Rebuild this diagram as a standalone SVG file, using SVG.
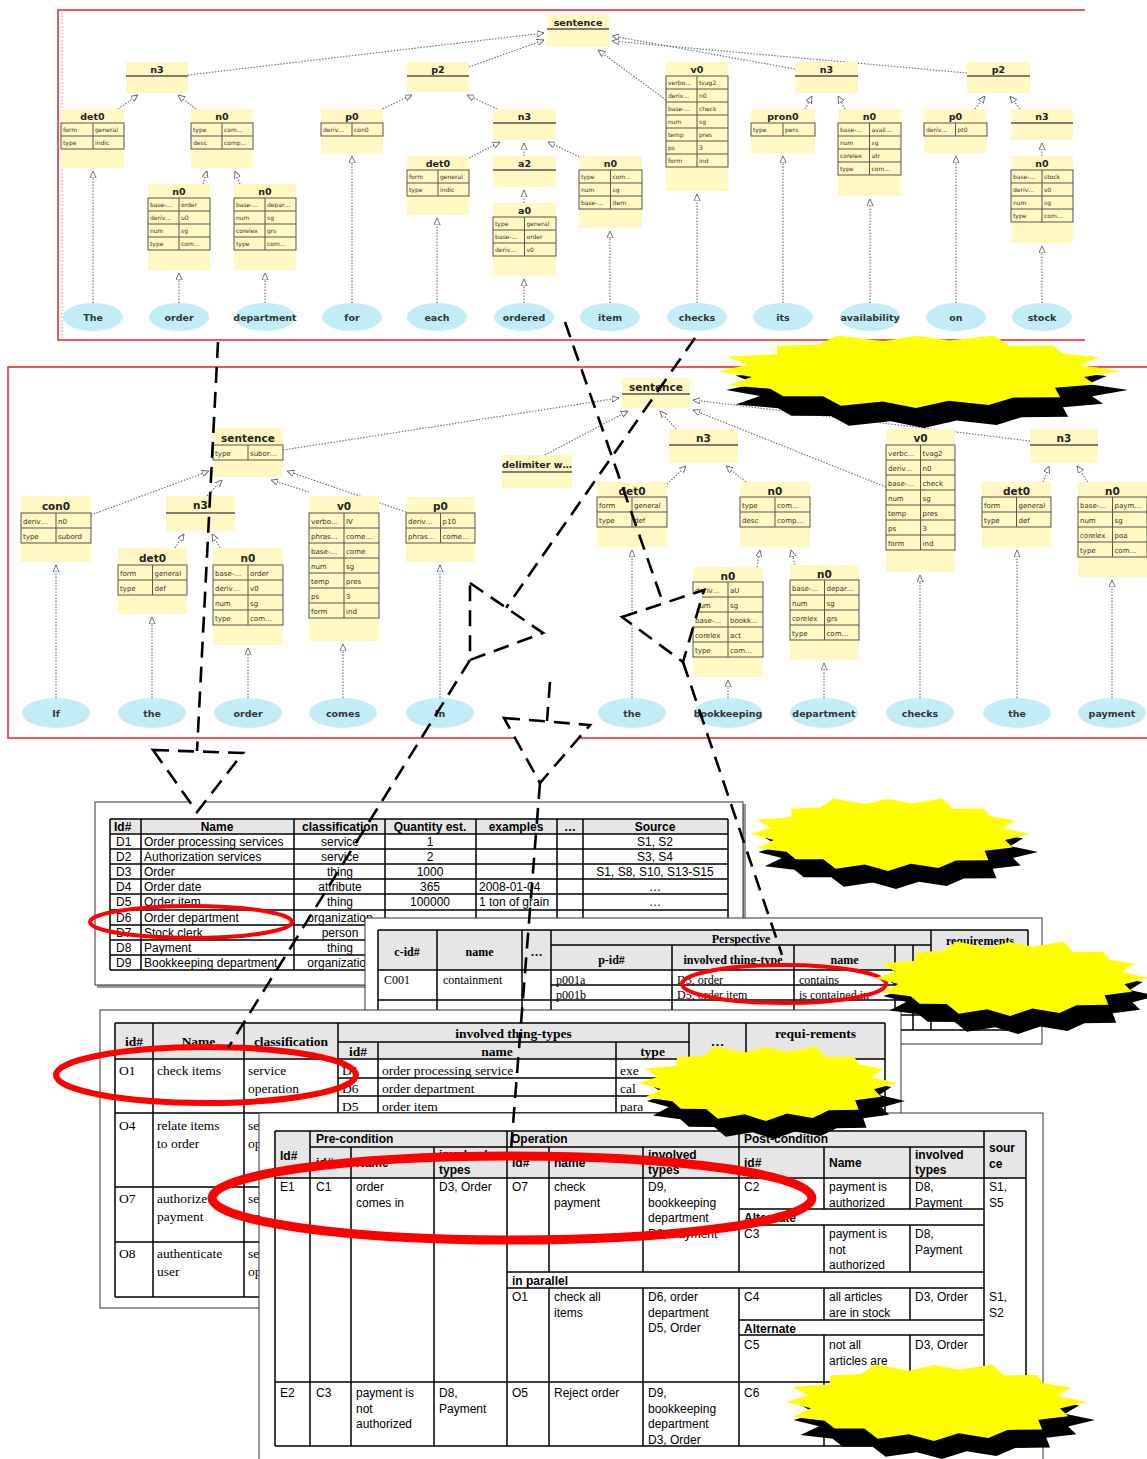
<svg xmlns="http://www.w3.org/2000/svg" xmlns:xlink="http://www.w3.org/1999/xlink" width="1147" height="1459" viewBox="0 0 1147 1459">
<style>
.nb{fill:#fff8c2}
.nt{font-family:"DejaVu Sans",sans-serif;font-weight:bold;font-size:9.5px;fill:#222;text-anchor:middle}
.nt2{font-family:"DejaVu Sans",sans-serif;font-weight:bold;font-size:10.5px;fill:#222;text-anchor:middle}
.ul{stroke:#555;stroke-width:1.6;fill:none}
.tb{fill:none;stroke:#555;stroke-width:1}
.ct{font-family:"DejaVu Sans",sans-serif;font-size:6px;fill:#333}
.ct2{font-family:"DejaVu Sans",sans-serif;font-size:7px;fill:#333}
.wd{fill:#c2edf7}
.wt{font-family:"DejaVu Sans",sans-serif;font-weight:bold;font-size:9.5px;fill:#333;text-anchor:middle}
.ed{fill:none;stroke:#777;stroke-width:1.2;stroke-dasharray:1.5 1.5;marker-end:url(#tri)}
.pan{fill:none;stroke:#e82020;stroke-width:1.5}
.frame{fill:#fff;stroke:#333;stroke-width:1}
.hd{fill:#e6e6e6}
.g1{fill:none;stroke:#000;stroke-width:1.5}
.s1{font-family:"Liberation Sans",Arial,sans-serif;font-size:12px;fill:#000}
.s1b{font-family:"Liberation Sans",Arial,sans-serif;font-size:12px;font-weight:bold;fill:#000}
.sr{font-family:"Liberation Serif","Times New Roman",serif;font-size:12px;fill:#000}
.srb{font-family:"Liberation Serif","Times New Roman",serif;font-size:12px;font-weight:bold;fill:#000}
.t3{font-family:"Liberation Serif","Times New Roman",serif;font-size:13.5px;fill:#000}
.t3b{font-family:"Liberation Serif","Times New Roman",serif;font-size:13.5px;font-weight:bold;fill:#000}
.t4{font-family:"Liberation Sans",Arial,sans-serif;font-size:12px;fill:#000}
.t4b{font-family:"Liberation Sans",Arial,sans-serif;font-size:12px;font-weight:bold;fill:#000}
.m{text-anchor:middle}
.re{fill:none;stroke:#ff0000}
.da{fill:none;stroke:#000;stroke-width:2.6;stroke-dasharray:16 9}
.dh{fill:#fff;stroke:#000;stroke-width:2.6;stroke-dasharray:16 9}
</style>
<defs>
<marker id="tri" viewBox="0 0 10 10" refX="10" refY="5" markerWidth="7" markerHeight="7" markerUnits="userSpaceOnUse" orient="auto">
<path d="M0,0.5 L10,5 L0,9.5 Z" fill="#fff" stroke="#666" stroke-width="1.3"/>
</marker>
<path id="star" d="M100,0 L82.4,16.4 L87.8,36.4 L68.1,45.6 L70.7,70.7 L47.8,71.5 L35.6,92 L16,80.4 L0,100 L-16.4,82.4 L-36.8,94 L-45.6,68.1 L-65,68 L-71.5,47.8 L-92.4,38.3 L-80.4,16 L-97,0 L-82.4,-16.4 L-92.4,-38.3 L-68.1,-45.6 L-68,-68 L-47.8,-71.5 L-38.3,-96 L-16,-80.4 L0,-95 L16.4,-82.4 L38.3,-96 L45.6,-68.1 L67.2,-69 L71.5,-47.8 L89.6,-37.1 L80.4,-16 Z"/>
</defs>
<rect width="1147" height="1459" fill="#fff"/>

<!-- ============ PANEL 1 ============ -->
<g id="panel1">
<path class="pan" d="M1085,10H58V340H1085"/>
<path d="M62,12V338" stroke="#999" stroke-width="1" stroke-dasharray="1.5 2"/>
</g>
<g id="p1-edges">
<path class="ed" d="M93,303V171"/>
<path class="ed" d="M179,303V273"/>
<path class="ed" d="M265,303V273"/>
<path class="ed" d="M352,303V156"/>
<path class="ed" d="M437,303V218"/>
<path class="ed" d="M524,303V279"/>
<path class="ed" d="M610,303V231"/>
<path class="ed" d="M697,303V194"/>
<path class="ed" d="M783,303V156"/>
<path class="ed" d="M870,303V199"/>
<path class="ed" d="M956,303V156"/>
<path class="ed" d="M1042,303V246"/>
<path class="ed" d="M524,203V190"/>
<path class="ed" d="M524,156V143"/>
<path class="ed" d="M1042,156V143"/>
<path class="ed" d="M118,109L138,95"/>
<path class="ed" d="M196,109L178,95"/>
<path class="ed" d="M203,184L207,171"/>
<path class="ed" d="M240,184L235,171"/>
<path class="ed" d="M380,110L412,95"/>
<path class="ed" d="M497,109L467,95"/>
<path class="ed" d="M469,158L500,142"/>
<path class="ed" d="M582,158L548,142"/>
<path class="ed" d="M188,75L544,33"/>
<path class="ed" d="M469,67L544,40"/>
<path class="ed" d="M666,100L598,50"/>
<path class="ed" d="M795,69L612,36"/>
<path class="ed" d="M967,73L612,41"/>
<path class="ed" d="M805,109L812,96"/>
<path class="ed" d="M845,109L838,96"/>
<path class="ed" d="M975,109L985,96"/>
<path class="ed" d="M1020,109L1010,96"/>
</g>
<g id="p1-sentence"><rect class="nb" x="547" y="15" width="62" height="32"/><text class="nt" x="578" y="26">sentence</text><path class="ul" d="M547,29H609"/></g>
<g id="p1-n3a"><rect class="nb" x="126" y="62" width="62" height="31"/><text class="nt" x="157" y="73">n3</text><path class="ul" d="M126,76H188"/></g>
<g id="p1-det0a"><rect class="nb" x="61" y="109" width="63" height="59"/><text class="nt" x="92.5" y="120">det0</text><rect class="tb" x="61" y="123" width="63" height="26"/><path class="tb" d="M61,136H124M93,123V149"/><text class="ct" x="63" y="132">form</text><text class="ct" x="95" y="132">general</text><text class="ct" x="63" y="145">type</text><text class="ct" x="95" y="145">indic</text></g>
<g id="p1-n0a"><rect class="nb" x="191" y="109" width="62" height="59"/><text class="nt" x="222" y="120">n0</text><rect class="tb" x="191" y="123" width="62" height="26"/><path class="tb" d="M191,136H253M222,123V149"/><text class="ct" x="193" y="132">type</text><text class="ct" x="224" y="132">com…</text><text class="ct" x="193" y="145">desc</text><text class="ct" x="224" y="145">comp…</text></g>
<g id="p1-n0b"><rect class="nb" x="148" y="184" width="62" height="86"/><text class="nt" x="179" y="195">n0</text><rect class="tb" x="148" y="198" width="62" height="52"/><path class="tb" d="M148,211H210M148,224H210M148,237H210M179,198V250"/><text class="ct" x="150" y="207">base-…</text><text class="ct" x="181" y="207">order</text><text class="ct" x="150" y="220">deriv…</text><text class="ct" x="181" y="220">u0</text><text class="ct" x="150" y="233">num</text><text class="ct" x="181" y="233">sg</text><text class="ct" x="150" y="246">type</text><text class="ct" x="181" y="246">com…</text></g>
<g id="p1-n0c"><rect class="nb" x="234" y="184" width="62" height="86"/><text class="nt" x="265" y="195">n0</text><rect class="tb" x="234" y="198" width="62" height="52"/><path class="tb" d="M234,211H296M234,224H296M234,237H296M265,198V250"/><text class="ct" x="236" y="207">base-…</text><text class="ct" x="267" y="207">depar…</text><text class="ct" x="236" y="220">num</text><text class="ct" x="267" y="220">sg</text><text class="ct" x="236" y="233">corelex</text><text class="ct" x="267" y="233">grs</text><text class="ct" x="236" y="246">type</text><text class="ct" x="267" y="246">com…</text></g>
<g id="p1-p0a"><rect class="nb" x="321" y="109" width="62" height="44"/><text class="nt" x="352" y="120">p0</text><rect class="tb" x="321" y="123" width="62" height="13"/><path class="tb" d="M352,123V136"/><text class="ct" x="323" y="132">deriv…</text><text class="ct" x="354" y="132">con0</text></g>
<g id="p1-p2a"><rect class="nb" x="407" y="62" width="62" height="30"/><text class="nt" x="438" y="73">p2</text><path class="ul" d="M407,76H469"/></g>
<g id="p1-n3b"><rect class="nb" x="493" y="109" width="63" height="31"/><text class="nt" x="524.5" y="120">n3</text><path class="ul" d="M493,123H556"/></g>
<g id="p1-det0b"><rect class="nb" x="407" y="156" width="62" height="59"/><text class="nt" x="438" y="167">det0</text><rect class="tb" x="407" y="170" width="62" height="26"/><path class="tb" d="M407,183H469M438,170V196"/><text class="ct" x="409" y="179">form</text><text class="ct" x="440" y="179">general</text><text class="ct" x="409" y="192">type</text><text class="ct" x="440" y="192">indic</text></g>
<g id="p1-a2"><rect class="nb" x="493" y="156" width="63" height="31"/><text class="nt" x="524.5" y="167">a2</text><path class="ul" d="M493,170H556"/></g>
<g id="p1-a0"><rect class="nb" x="493" y="203" width="63" height="73"/><text class="nt" x="524.5" y="214">a0</text><rect class="tb" x="493" y="217" width="63" height="39"/><path class="tb" d="M493,230H556M493,243H556M524.5,217V256"/><text class="ct" x="495" y="226">type</text><text class="ct" x="526.5" y="226">general</text><text class="ct" x="495" y="239">base-…</text><text class="ct" x="526.5" y="239">order</text><text class="ct" x="495" y="252">deriv…</text><text class="ct" x="526.5" y="252">v0</text></g>
<g id="p1-n0d"><rect class="nb" x="579" y="156" width="63" height="72"/><text class="nt" x="610.5" y="167">n0</text><rect class="tb" x="579" y="170" width="63" height="39"/><path class="tb" d="M579,183H642M579,196H642M610.5,170V209"/><text class="ct" x="581" y="179">type</text><text class="ct" x="612.5" y="179">com…</text><text class="ct" x="581" y="192">num</text><text class="ct" x="612.5" y="192">sg</text><text class="ct" x="581" y="205">base-…</text><text class="ct" x="612.5" y="205">item</text></g>
<g id="p1-v0a"><rect class="nb" x="666" y="62" width="62" height="129"/><text class="nt" x="697" y="73">v0</text><rect class="tb" x="666" y="76" width="62" height="91"/><path class="tb" d="M666,89H728M666,102H728M666,115H728M666,128H728M666,141H728M666,154H728M697,76V167"/><text class="ct" x="668" y="85">verbo…</text><text class="ct" x="699" y="85">tvag2</text><text class="ct" x="668" y="98">deriv…</text><text class="ct" x="699" y="98">n0</text><text class="ct" x="668" y="111">base-…</text><text class="ct" x="699" y="111">check</text><text class="ct" x="668" y="124">num</text><text class="ct" x="699" y="124">sg</text><text class="ct" x="668" y="137">temp</text><text class="ct" x="699" y="137">pres</text><text class="ct" x="668" y="150">ps</text><text class="ct" x="699" y="150">3</text><text class="ct" x="668" y="163">form</text><text class="ct" x="699" y="163">ind</text></g>
<g id="p1-n3c"><rect class="nb" x="795" y="62" width="63" height="31"/><text class="nt" x="826.5" y="73">n3</text><path class="ul" d="M795,76H858"/></g>
<g id="p1-pron0"><rect class="nb" x="751" y="109" width="64" height="44"/><text class="nt" x="783" y="120">pron0</text><rect class="tb" x="751" y="123" width="64" height="13"/><path class="tb" d="M783,123V136"/><text class="ct" x="753" y="132">type</text><text class="ct" x="785" y="132">pers</text></g>
<g id="p1-n0e"><rect class="nb" x="838" y="109" width="63" height="87"/><text class="nt" x="869.5" y="120">n0</text><rect class="tb" x="838" y="123" width="63" height="52"/><path class="tb" d="M838,136H901M838,149H901M838,162H901M869.5,123V175"/><text class="ct" x="840" y="132">base-…</text><text class="ct" x="871.5" y="132">avail…</text><text class="ct" x="840" y="145">num</text><text class="ct" x="871.5" y="145">sg</text><text class="ct" x="840" y="158">corelex</text><text class="ct" x="871.5" y="158">atr</text><text class="ct" x="840" y="171">type</text><text class="ct" x="871.5" y="171">com…</text></g>
<g id="p1-p2b"><rect class="nb" x="967" y="62" width="63" height="31"/><text class="nt" x="998.5" y="73">p2</text><path class="ul" d="M967,76H1030"/></g>
<g id="p1-p0b"><rect class="nb" x="924" y="109" width="63" height="44"/><text class="nt" x="955.5" y="120">p0</text><rect class="tb" x="924" y="123" width="63" height="13"/><path class="tb" d="M955.5,123V136"/><text class="ct" x="926" y="132">deriv…</text><text class="ct" x="957.5" y="132">pt0</text></g>
<g id="p1-n3d"><rect class="nb" x="1011" y="109" width="62" height="31"/><text class="nt" x="1042" y="120">n3</text><path class="ul" d="M1011,123H1073"/></g>
<g id="p1-n0f"><rect class="nb" x="1011" y="156" width="62" height="87"/><text class="nt" x="1042" y="167">n0</text><rect class="tb" x="1011" y="170" width="62" height="52"/><path class="tb" d="M1011,183H1073M1011,196H1073M1011,209H1073M1042,170V222"/><text class="ct" x="1013" y="179">base-…</text><text class="ct" x="1044" y="179">stock</text><text class="ct" x="1013" y="192">deriv…</text><text class="ct" x="1044" y="192">v0</text><text class="ct" x="1013" y="205">num</text><text class="ct" x="1044" y="205">sg</text><text class="ct" x="1013" y="218">type</text><text class="ct" x="1044" y="218">com…</text></g>
<g id="p1-words">
<g id="w-The"><ellipse class="wd" cx="93" cy="317" rx="30" ry="14"/><text class="wt" x="93" y="321">The</text></g>
<g id="w-order"><ellipse class="wd" cx="179" cy="317" rx="30" ry="14"/><text class="wt" x="179" y="321">order</text></g>
<g id="w-department"><ellipse class="wd" cx="265" cy="317" rx="30" ry="14"/><text class="wt" x="265" y="321">department</text></g>
<g id="w-for"><ellipse class="wd" cx="352" cy="317" rx="30" ry="14"/><text class="wt" x="352" y="321">for</text></g>
<g id="w-each"><ellipse class="wd" cx="437" cy="317" rx="30" ry="14"/><text class="wt" x="437" y="321">each</text></g>
<g id="w-ordered"><ellipse class="wd" cx="524" cy="317" rx="30" ry="14"/><text class="wt" x="524" y="321">ordered</text></g>
<g id="w-item"><ellipse class="wd" cx="610" cy="317" rx="30" ry="14"/><text class="wt" x="610" y="321">item</text></g>
<g id="w-checks"><ellipse class="wd" cx="697" cy="317" rx="30" ry="14"/><text class="wt" x="697" y="321">checks</text></g>
<g id="w-its"><ellipse class="wd" cx="783" cy="317" rx="30" ry="14"/><text class="wt" x="783" y="321">its</text></g>
<g id="w-availability"><ellipse class="wd" cx="870" cy="317" rx="30" ry="14"/><text class="wt" x="870" y="321">availability</text></g>
<g id="w-on"><ellipse class="wd" cx="956" cy="317" rx="30" ry="14"/><text class="wt" x="956" y="321">on</text></g>
<g id="w-stock"><ellipse class="wd" cx="1042" cy="317" rx="30" ry="14"/><text class="wt" x="1042" y="321">stock</text></g>
</g>

<!-- ============ PANEL 2 ============ -->
<g id="panel2"><rect x="8" y="367" width="1139" height="371" fill="#fff"/><path class="pan" d="M1147,367H8V738H1147"/></g>
<g id="p2-edges">
<path class="ed" d="M56,698V565"/>
<path class="ed" d="M152,698V617"/>
<path class="ed" d="M248,698V648"/>
<path class="ed" d="M343,698V644"/>
<path class="ed" d="M440,698V565"/>
<path class="ed" d="M632,698V550"/>
<path class="ed" d="M728,698V680"/>
<path class="ed" d="M824,698V663"/>
<path class="ed" d="M920,698V575"/>
<path class="ed" d="M1017,698V550"/>
<path class="ed" d="M1112,698V580"/>
<path class="ed" d="M175,548L184,534"/>
<path class="ed" d="M220,548L212,534"/>
<path class="ed" d="M91,515L209,471"/>
<path class="ed" d="M207,496L222,480"/>
<path class="ed" d="M309,492L271,480"/>
<path class="ed" d="M406,512L287,471"/>
<path class="ed" d="M283,450L619,398"/>
<path class="ed" d="M545,455L628,411"/>
<path class="ed" d="M676,429L660,411"/>
<path class="ed" d="M886,487L693,410"/>
<path class="ed" d="M1030,441L693,400"/>
<path class="ed" d="M667,484L686,466"/>
<path class="ed" d="M746,482L726,466"/>
<path class="ed" d="M757,567L760,550"/>
<path class="ed" d="M795,565L791,550"/>
<path class="ed" d="M1043,482L1049,466"/>
<path class="ed" d="M1088,482L1077,466"/>
</g>
<g id="p2-sentTop"><rect class="nb" x="622" y="378" width="68" height="30"/><text class="nt2" x="656" y="391">sentence</text><path class="ul" d="M622,394H690"/></g>
<g id="p2-sentSub"><rect class="nb" x="213" y="428" width="70" height="49"/><text class="nt2" x="248" y="442">sentence</text><rect class="tb" x="213" y="445" width="70" height="15"/><path class="tb" d="M248,445V460"/><text class="ct2" x="215" y="455.5">type</text><text class="ct2" x="250" y="455.5">subor…</text></g>
<g id="p2-con0"><rect class="nb" x="21" y="496" width="70" height="66"/><text class="nt2" x="56" y="510">con0</text><rect class="tb" x="21" y="513" width="70" height="30"/><path class="tb" d="M21,528H91M56,513V543"/><text class="ct2" x="23" y="523.5">deriv…</text><text class="ct2" x="58" y="523.5">n0</text><text class="ct2" x="23" y="538.5">type</text><text class="ct2" x="58" y="538.5">subord</text></g>
<g id="p2-n3e"><rect class="nb" x="166" y="496" width="69" height="35"/><text class="nt2" x="200.5" y="509">n3</text><path class="ul" d="M166,513H235"/></g>
<g id="p2-det0c"><rect class="nb" x="118" y="548" width="69" height="66"/><text class="nt2" x="152.5" y="562">det0</text><rect class="tb" x="118" y="565" width="69" height="30"/><path class="tb" d="M118,580H187M152.5,565V595"/><text class="ct2" x="120" y="575.5">form</text><text class="ct2" x="154.5" y="575.5">general</text><text class="ct2" x="120" y="590.5">type</text><text class="ct2" x="154.5" y="590.5">def</text></g>
<g id="p2-n0g"><rect class="nb" x="213" y="548" width="70" height="97"/><text class="nt2" x="248" y="562">n0</text><rect class="tb" x="213" y="565" width="70" height="60"/><path class="tb" d="M213,580H283M213,595H283M213,610H283M248,565V625"/><text class="ct2" x="215" y="575.5">base-…</text><text class="ct2" x="250" y="575.5">order</text><text class="ct2" x="215" y="590.5">deriv…</text><text class="ct2" x="250" y="590.5">v0</text><text class="ct2" x="215" y="605.5">num</text><text class="ct2" x="250" y="605.5">sg</text><text class="ct2" x="215" y="620.5">type</text><text class="ct2" x="250" y="620.5">com…</text></g>
<g id="p2-v0b"><rect class="nb" x="309" y="496" width="70" height="145"/><text class="nt2" x="344" y="510">v0</text><rect class="tb" x="309" y="513" width="70" height="105"/><path class="tb" d="M309,528H379M309,543H379M309,558H379M309,573H379M309,588H379M309,603H379M344,513V618"/><text class="ct2" x="311" y="523.5">verbo…</text><text class="ct2" x="346" y="523.5">IV</text><text class="ct2" x="311" y="538.5">phras…</text><text class="ct2" x="346" y="538.5">come…</text><text class="ct2" x="311" y="553.5">base-…</text><text class="ct2" x="346" y="553.5">come</text><text class="ct2" x="311" y="568.5">num</text><text class="ct2" x="346" y="568.5">sg</text><text class="ct2" x="311" y="583.5">temp</text><text class="ct2" x="346" y="583.5">pres</text><text class="ct2" x="311" y="598.5">ps</text><text class="ct2" x="346" y="598.5">3</text><text class="ct2" x="311" y="613.5">form</text><text class="ct2" x="346" y="613.5">ind</text></g>
<g id="p2-p0c"><rect class="nb" x="406" y="497" width="69" height="65"/><text class="nt2" x="440.5" y="510">p0</text><rect class="tb" x="406" y="513" width="69" height="30"/><path class="tb" d="M406,528H475M440.5,513V543"/><text class="ct2" x="408" y="523.5">deriv…</text><text class="ct2" x="442.5" y="523.5">p10</text><text class="ct2" x="408" y="538.5">phras…</text><text class="ct2" x="442.5" y="538.5">come…</text></g>
<g id="p2-delim"><rect class="nb" x="502" y="455" width="70" height="33"/><text class="nt" x="537" y="468">delimiter w…</text><path class="ul" d="M502,472H572"/></g>
<g id="p2-det0d"><rect class="nb" x="597" y="482" width="70" height="65"/><text class="nt2" x="632" y="495">det0</text><rect class="tb" x="597" y="497" width="70" height="30"/><path class="tb" d="M597,512H667M632,497V527"/><text class="ct2" x="599" y="507.5">form</text><text class="ct2" x="634" y="507.5">general</text><text class="ct2" x="599" y="522.5">type</text><text class="ct2" x="634" y="522.5">def</text></g>
<g id="p2-n3f"><rect class="nb" x="669" y="429" width="69" height="34"/><text class="nt2" x="703.5" y="442">n3</text><path class="ul" d="M669,445H738"/></g>
<g id="p2-n0h"><rect class="nb" x="740" y="482" width="70" height="65"/><text class="nt2" x="775" y="495">n0</text><rect class="tb" x="740" y="497" width="70" height="30"/><path class="tb" d="M740,512H810M775,497V527"/><text class="ct2" x="742" y="507.5">type</text><text class="ct2" x="777" y="507.5">com…</text><text class="ct2" x="742" y="522.5">desc</text><text class="ct2" x="777" y="522.5">comp…</text></g>
<g id="p2-n0i"><rect class="nb" x="693" y="567" width="70" height="110"/><text class="nt2" x="728" y="580">n0</text><rect class="tb" x="693" y="582" width="70" height="75"/><path class="tb" d="M693,597H763M693,612H763M693,627H763M693,642H763M728,582V657"/><text class="ct2" x="695" y="592.5">deriv…</text><text class="ct2" x="730" y="592.5">aU</text><text class="ct2" x="695" y="607.5">num</text><text class="ct2" x="730" y="607.5">sg</text><text class="ct2" x="695" y="622.5">base-…</text><text class="ct2" x="730" y="622.5">bookk…</text><text class="ct2" x="695" y="637.5">corelex</text><text class="ct2" x="730" y="637.5">act</text><text class="ct2" x="695" y="652.5">type</text><text class="ct2" x="730" y="652.5">com…</text></g>
<g id="p2-n0j"><rect class="nb" x="790" y="565" width="69" height="95"/><text class="nt2" x="824.5" y="578">n0</text><rect class="tb" x="790" y="580" width="69" height="60"/><path class="tb" d="M790,595H859M790,610H859M790,625H859M824.5,580V640"/><text class="ct2" x="792" y="590.5">base-…</text><text class="ct2" x="826.5" y="590.5">depar…</text><text class="ct2" x="792" y="605.5">num</text><text class="ct2" x="826.5" y="605.5">sg</text><text class="ct2" x="792" y="620.5">corelex</text><text class="ct2" x="826.5" y="620.5">grs</text><text class="ct2" x="792" y="635.5">type</text><text class="ct2" x="826.5" y="635.5">com…</text></g>
<g id="p2-v0c"><rect class="nb" x="886" y="429" width="69" height="143"/><text class="nt2" x="920.5" y="442">v0</text><rect class="tb" x="886" y="445" width="69" height="105"/><path class="tb" d="M886,460H955M886,475H955M886,490H955M886,505H955M886,520H955M886,535H955M920.5,445V550"/><text class="ct2" x="888" y="455.5">verbc…</text><text class="ct2" x="922.5" y="455.5">tvag2</text><text class="ct2" x="888" y="470.5">deriv…</text><text class="ct2" x="922.5" y="470.5">n0</text><text class="ct2" x="888" y="485.5">base-…</text><text class="ct2" x="922.5" y="485.5">check</text><text class="ct2" x="888" y="500.5">num</text><text class="ct2" x="922.5" y="500.5">sg</text><text class="ct2" x="888" y="515.5">temp</text><text class="ct2" x="922.5" y="515.5">pres</text><text class="ct2" x="888" y="530.5">ps</text><text class="ct2" x="922.5" y="530.5">3</text><text class="ct2" x="888" y="545.5">form</text><text class="ct2" x="922.5" y="545.5">ind</text></g>
<g id="p2-n3g"><rect class="nb" x="1030" y="429" width="68" height="34"/><text class="nt2" x="1064" y="442">n3</text><path class="ul" d="M1030,445H1098"/></g>
<g id="p2-det0e"><rect class="nb" x="982" y="482" width="69" height="65"/><text class="nt2" x="1016.5" y="495">det0</text><rect class="tb" x="982" y="497" width="69" height="30"/><path class="tb" d="M982,512H1051M1016.5,497V527"/><text class="ct2" x="984" y="507.5">form</text><text class="ct2" x="1018.5" y="507.5">general</text><text class="ct2" x="984" y="522.5">type</text><text class="ct2" x="1018.5" y="522.5">def</text></g>
<g id="p2-n0k"><rect class="nb" x="1078" y="482" width="69" height="95"/><text class="nt2" x="1112.5" y="495">n0</text><rect class="tb" x="1078" y="497" width="69" height="60"/><path class="tb" d="M1078,512H1147M1078,527H1147M1078,542H1147M1112.5,497V557"/><text class="ct2" x="1080" y="507.5">base-…</text><text class="ct2" x="1114.5" y="507.5">paym…</text><text class="ct2" x="1080" y="522.5">num</text><text class="ct2" x="1114.5" y="522.5">sg</text><text class="ct2" x="1080" y="537.5">corelex</text><text class="ct2" x="1114.5" y="537.5">poa</text><text class="ct2" x="1080" y="552.5">type</text><text class="ct2" x="1114.5" y="552.5">com…</text></g>
<g id="p2-words">
<g id="w2-If"><ellipse class="wd" cx="56" cy="713" rx="34" ry="15"/><text class="wt" x="56" y="717">If</text></g>
<g id="w2-the1"><ellipse class="wd" cx="152" cy="713" rx="34" ry="15"/><text class="wt" x="152" y="717">the</text></g>
<g id="w2-order"><ellipse class="wd" cx="248" cy="713" rx="34" ry="15"/><text class="wt" x="248" y="717">order</text></g>
<g id="w2-comes"><ellipse class="wd" cx="343" cy="713" rx="34" ry="15"/><text class="wt" x="343" y="717">comes</text></g>
<g id="w2-In"><ellipse class="wd" cx="440" cy="713" rx="34" ry="15"/><text class="wt" x="440" y="717">In</text></g>
<g id="w2-the2"><ellipse class="wd" cx="632" cy="713" rx="34" ry="15"/><text class="wt" x="632" y="717">the</text></g>
<g id="w2-bookkeeping"><ellipse class="wd" cx="728" cy="713" rx="34" ry="15"/><text class="wt" x="728" y="717">bookkeeping</text></g>
<g id="w2-department"><ellipse class="wd" cx="824" cy="713" rx="34" ry="15"/><text class="wt" x="824" y="717">department</text></g>
<g id="w2-checks"><ellipse class="wd" cx="920" cy="713" rx="34" ry="15"/><text class="wt" x="920" y="717">checks</text></g>
<g id="w2-the3"><ellipse class="wd" cx="1017" cy="713" rx="34" ry="15"/><text class="wt" x="1017" y="717">the</text></g>
<g id="w2-payment"><ellipse class="wd" cx="1112" cy="713" rx="34" ry="15"/><text class="wt" x="1112" y="717">payment</text></g>
</g>

<!-- ============ TABLE 1 ============ -->
<g id="table1">
<path d="M97,986.5H744.5V804" fill="none" stroke="#999" stroke-width="3"/>
<rect class="frame" x="95" y="802" width="648" height="183"/>
<rect class="hd" x="110" y="819" width="618" height="15"/>
<path class="g1" d="M110,819H728M110,834H728M110,849H728M110,864H728M110,879H728M110,894H728M110,910H728M110,925H728M110,940H728M110,955H728M110,970H728M110,819V970M141,819V970M294,819V970M385,819V970M476,819V970M557,819V970M583,819V970M728,819V970"/>
<text class="s1b" x="114" y="831">Id#</text><text class="s1b m" x="217" y="831">Name</text><text class="s1b m" x="340" y="831">classification</text><text class="s1b m" x="430" y="831">Quantity est.</text><text class="s1b m" x="516" y="831">examples</text><text class="s1b m" x="570" y="831">…</text><text class="s1b m" x="655" y="831">Source</text>
<text class="s1" x="116" y="846">D1</text><text class="s1" x="144" y="846">Order processing services</text><text class="s1 m" x="340" y="846">service</text><text class="s1 m" x="430" y="846">1</text><text class="s1 m" x="655" y="846">S1, S2</text>
<text class="s1" x="116" y="861">D2</text><text class="s1" x="144" y="861">Authorization services</text><text class="s1 m" x="340" y="861">service</text><text class="s1 m" x="430" y="861">2</text><text class="s1 m" x="655" y="861">S3, S4</text>
<text class="s1" x="116" y="876">D3</text><text class="s1" x="144" y="876">Order</text><text class="s1 m" x="340" y="876">thing</text><text class="s1 m" x="430" y="876">1000</text><text class="s1 m" x="655" y="876">S1, S8, S10, S13-S15</text>
<text class="s1" x="116" y="891">D4</text><text class="s1" x="144" y="891">Order date</text><text class="s1 m" x="340" y="891">attribute</text><text class="s1 m" x="430" y="891">365</text><text class="s1" x="479" y="891">2008-01-04</text><text class="s1 m" x="655" y="891">…</text>
<text class="s1" x="116" y="906">D5</text><text class="s1" x="144" y="906">Order item</text><text class="s1 m" x="340" y="906">thing</text><text class="s1 m" x="430" y="906">100000</text><text class="s1" x="479" y="906">1 ton of grain</text><text class="s1 m" x="655" y="906">…</text>
<text class="s1" x="116" y="922">D6</text><text class="s1" x="144" y="922">Order department</text><text class="s1 m" x="340" y="922">organization</text>
<text class="s1" x="116" y="937">D7</text><text class="s1" x="144" y="937">Stock clerk</text><text class="s1 m" x="340" y="937">person</text>
<text class="s1" x="116" y="952">D8</text><text class="s1" x="144" y="952">Payment</text><text class="s1 m" x="340" y="952">thing</text>
<text class="s1" x="116" y="967">D9</text><text class="s1" x="144" y="967">Bookkeeping department</text><text class="s1 m" x="340" y="967">organization</text>
</g>

<!-- ============ TABLE 2 ============ -->
<g id="table2">
<rect class="frame" x="365" y="918" width="677" height="126"/>
<rect class="hd" x="378" y="930" width="650" height="40"/>
<path class="g1" d="M378,930H1028M551,945H931M378,970H1028M551,985H1028M378,1000H1028M551,1015H1028M378,1030H1028M378,930V1030M437,930V1030M522,930V1030M551,930V1030M672,945V1030M794,945V1030M895,945V1030M913,945V1030M931,930V1030M1028,930V1030"/>
<text class="srb m" x="407" y="956">c-id#</text><text class="srb m" x="479.5" y="956">name</text><text class="srb m" x="536.5" y="956">…</text><text class="srb m" x="741" y="943">Perspective</text><text class="srb m" x="980" y="945">requirements</text>
<text class="srb m" x="611.5" y="964">p-id#</text><text class="srb m" x="733" y="964">involved thing-type</text><text class="srb m" x="844.5" y="964">name</text>
<text class="sr" x="384" y="983.5">C001</text><text class="sr" x="443" y="983.5">containment</text><text class="sr" x="556" y="983.5">p001a</text><text class="sr" x="677" y="983.5">D3, order</text><text class="sr" x="799" y="983.5">contains</text>
<text class="sr" x="556" y="998.5">p001b</text><text class="sr" x="677" y="998.5">D5, order item</text><text class="sr" x="799" y="998.5">is contained in</text>
</g>

<!-- ============ TABLE 3 ============ -->
<g id="table3">
<rect class="frame" x="100" y="1010" width="801" height="298"/>
<rect class="hd" x="115" y="1023" width="770" height="36"/>
<path class="g1" d="M115,1023H885M338,1042H689M115,1059H885M338,1078H746M338,1096H746M115,1113H885M115,1187H885M115,1242H885M115,1297H885M115,1023V1297M153,1023V1297M244,1023V1297M338,1023V1297M378,1042V1297M616,1042V1297M689,1023V1297M746,1023V1297M885,1023V1297"/>
<text class="t3b m" x="134" y="1046">id#</text><text class="t3b m" x="198.5" y="1046">Name</text><text class="t3b m" x="291" y="1046">classification</text><text class="t3b m" x="513.5" y="1038">involved thing-types</text><text class="t3b m" x="717.5" y="1046">…</text><text class="t3b m" x="815.5" y="1038">requi-rements</text>
<text class="t3b m" x="358" y="1056">id#</text><text class="t3b m" x="497" y="1056">name</text><text class="t3b m" x="652.5" y="1056">type</text>
<text class="t3" x="119" y="1075">O1</text><text class="t3" x="157" y="1075">check items</text><text class="t3" x="248" y="1075">service</text><text class="t3" x="248" y="1093">operation</text>
<text class="t3" x="342" y="1075">D1</text><text class="t3" x="382" y="1075">order processing service</text><text class="t3" x="620" y="1075">exe</text>
<text class="t3" x="342" y="1093">D6</text><text class="t3" x="382" y="1093">order department</text><text class="t3" x="620" y="1093">cal</text>
<text class="t3" x="342" y="1111">D5</text><text class="t3" x="382" y="1111">order item</text><text class="t3" x="620" y="1111">para</text>
<text class="t3" x="119" y="1130">O4</text><text class="t3" x="157" y="1130">relate items</text><text class="t3" x="157" y="1148">to order</text><text class="t3" x="248" y="1130">se</text><text class="t3" x="248" y="1148">op</text>
<text class="t3" x="119" y="1203">O7</text><text class="t3" x="157" y="1203">authorize</text><text class="t3" x="157" y="1221">payment</text><text class="t3" x="248" y="1203">se</text><text class="t3" x="248" y="1221">op</text>
<text class="t3" x="119" y="1258">O8</text><text class="t3" x="157" y="1258">authenticate</text><text class="t3" x="157" y="1276">user</text><text class="t3" x="248" y="1258">se</text><text class="t3" x="248" y="1276">op</text>
</g>

<!-- ============ TABLE 4 ============ -->
<g id="table4">
<rect class="frame" x="259" y="1113" width="784" height="360"/>
<rect class="hd" x="275" y="1131" width="751" height="47"/>
<path class="g1" stroke-width="1.8" d="M275,1131H1026M310,1147H984M275,1178H1026M739,1209H984M739,1225H984M507,1272H984M507,1288H984M739,1320H984M739,1335H984M275,1382H1026M275,1446H1026M275,1131V1446M310,1131V1446M351,1147V1446M434,1147V1446M507,1131V1446M549,1147V1272M549,1288V1446M643,1147V1272M643,1288V1446M739,1131V1272M739,1288V1446M824,1147V1209M824,1225V1272M824,1288V1320M824,1335V1446M910,1147V1209M910,1225V1272M910,1288V1320M910,1335V1446M984,1131V1446M1026,1131V1446"/>
<text class="t4b" x="280" y="1160">Id#</text><text class="t4b" x="316" y="1143">Pre-condition</text><text class="t4b" x="511" y="1143">Operation</text><text class="t4b" x="744" y="1143">Post-condition</text><text class="t4b" x="989" y="1152">sour</text><text class="t4b" x="989" y="1168">ce</text>
<text class="t4b" x="316" y="1167">id#</text><text class="t4b" x="356" y="1167">Name</text><text class="t4b" x="439" y="1159">involved</text><text class="t4b" x="439" y="1174">types</text>
<text class="t4b" x="512" y="1167">id#</text><text class="t4b" x="554" y="1167">name</text><text class="t4b" x="648" y="1159">involved</text><text class="t4b" x="648" y="1174">types</text>
<text class="t4b" x="744" y="1167">id#</text><text class="t4b" x="829" y="1167">Name</text><text class="t4b" x="915" y="1159">involved</text><text class="t4b" x="915" y="1174">types</text>
<text class="t4" x="280" y="1191">E1</text><text class="t4" x="316" y="1191">C1</text><text class="t4" x="356" y="1191">order</text><text class="t4" x="356" y="1206.5">comes in</text><text class="t4" x="439" y="1191">D3, Order</text>
<text class="t4" x="512" y="1191">O7</text><text class="t4" x="554" y="1191">check</text><text class="t4" x="554" y="1206.5">payment</text>
<text class="t4" x="648" y="1191">D9,</text><text class="t4" x="648" y="1206.5">bookkeeping</text><text class="t4" x="648" y="1222">department</text><text class="t4" x="648" y="1237.5">D8, Payment</text>
<text class="t4" x="744" y="1191">C2</text><text class="t4" x="829" y="1191">payment is</text><text class="t4" x="829" y="1206.5">authorized</text><text class="t4" x="915" y="1191">D8,</text><text class="t4" x="915" y="1206.5">Payment</text>
<text class="t4" x="989" y="1191">S1,</text><text class="t4" x="989" y="1206.5">S5</text>
<text class="t4b" x="744" y="1222">Alternate</text>
<text class="t4" x="744" y="1238">C3</text><text class="t4" x="829" y="1238">payment is</text><text class="t4" x="829" y="1253.5">not</text><text class="t4" x="829" y="1269">authorized</text><text class="t4" x="915" y="1238">D8,</text><text class="t4" x="915" y="1253.5">Payment</text>
<text class="t4b" x="512" y="1285">in parallel</text>
<text class="t4" x="512" y="1301">O1</text><text class="t4" x="554" y="1301">check all</text><text class="t4" x="554" y="1316.5">items</text>
<text class="t4" x="648" y="1301">D6, order</text><text class="t4" x="648" y="1316.5">department</text><text class="t4" x="648" y="1332">D5, Order</text>
<text class="t4" x="744" y="1301">C4</text><text class="t4" x="829" y="1301">all articles</text><text class="t4" x="829" y="1316.5">are in stock</text><text class="t4" x="915" y="1301">D3, Order</text>
<text class="t4" x="989" y="1301">S1,</text><text class="t4" x="989" y="1316.5">S2</text>
<text class="t4b" x="744" y="1332.5">Alternate</text>
<text class="t4" x="744" y="1349">C5</text><text class="t4" x="829" y="1349">not all</text><text class="t4" x="829" y="1364.5">articles are</text><text class="t4" x="915" y="1349">D3, Order</text>
<text class="t4" x="280" y="1397">E2</text><text class="t4" x="316" y="1397">C3</text><text class="t4" x="356" y="1397">payment is</text><text class="t4" x="356" y="1412.5">not</text><text class="t4" x="356" y="1428">authorized</text>
<text class="t4" x="439" y="1397">D8,</text><text class="t4" x="439" y="1412.5">Payment</text>
<text class="t4" x="512" y="1397">O5</text><text class="t4" x="554" y="1397">Reject order</text>
<text class="t4" x="648" y="1397">D9,</text><text class="t4" x="648" y="1412.5">bookkeeping</text><text class="t4" x="648" y="1428">department</text><text class="t4" x="648" y="1443.5">D3, Order</text>
<text class="t4" x="744" y="1397">C6</text>
</g>

<!-- ============ RED ELLIPSES ============ -->
<g id="highlights">
<ellipse class="re" cx="191" cy="922" rx="101" ry="16" stroke-width="4"/>
<ellipse class="re" cx="784" cy="984" rx="102" ry="19" stroke-width="4"/>
<ellipse class="re" cx="206" cy="1075" rx="150" ry="28" stroke-width="6"/>
<ellipse class="re" cx="512" cy="1198" rx="300" ry="42" stroke-width="9"/>
</g>

<!-- ============ STARBURSTS ============ -->
<g id="stars">
<use xlink:href="#star" fill="#000" transform="translate(924,390) scale(2.04,0.38)"/>
<use xlink:href="#star" fill="#ffff00" transform="translate(916,371) scale(2.04,0.37)"/>
<use xlink:href="#star" fill="#000" transform="translate(896,852) scale(1.42,0.37)"/>
<use xlink:href="#star" fill="#ffff00" transform="translate(888,834) scale(1.42,0.37)"/>
<use xlink:href="#star" fill="#000" transform="translate(1018,996) scale(1.39,0.38)"/>
<use xlink:href="#star" fill="#ffff00" transform="translate(1010,978) scale(1.39,0.38)"/>
<use xlink:href="#star" fill="#000" transform="translate(774,1101) scale(1.31,0.38)"/>
<use xlink:href="#star" fill="#ffff00" transform="translate(766,1083) scale(1.31,0.38)"/>
<use xlink:href="#star" fill="#000" transform="translate(942,1420) scale(1.53,0.39)"/>
<use xlink:href="#star" fill="#ffff00" transform="translate(934,1402) scale(1.53,0.39)"/>
</g>

<!-- ============ DASHED ARROWS ============ -->
<g id="connectors">
<path class="da" d="M218,342L197,751"/>
<polygon class="dh" points="153,750 243,753 197,812"/>
<path class="da" d="M695,338L506,608"/>
<polygon class="dh" points="470,583 543,633 470,660"/>
<path class="da" d="M470,660L228,1048"/>
<path class="da" d="M565,322L663,603"/>
<polygon class="dh" points="622,617 704,590 683,662"/>
<path class="da" d="M683,662L782,955"/>
<path class="da" d="M550,682L547,721"/>
<polygon class="dh" points="504,718 590,725 540,783"/>
<path class="da" d="M540,783L511,1150"/>
</g>
</svg>
